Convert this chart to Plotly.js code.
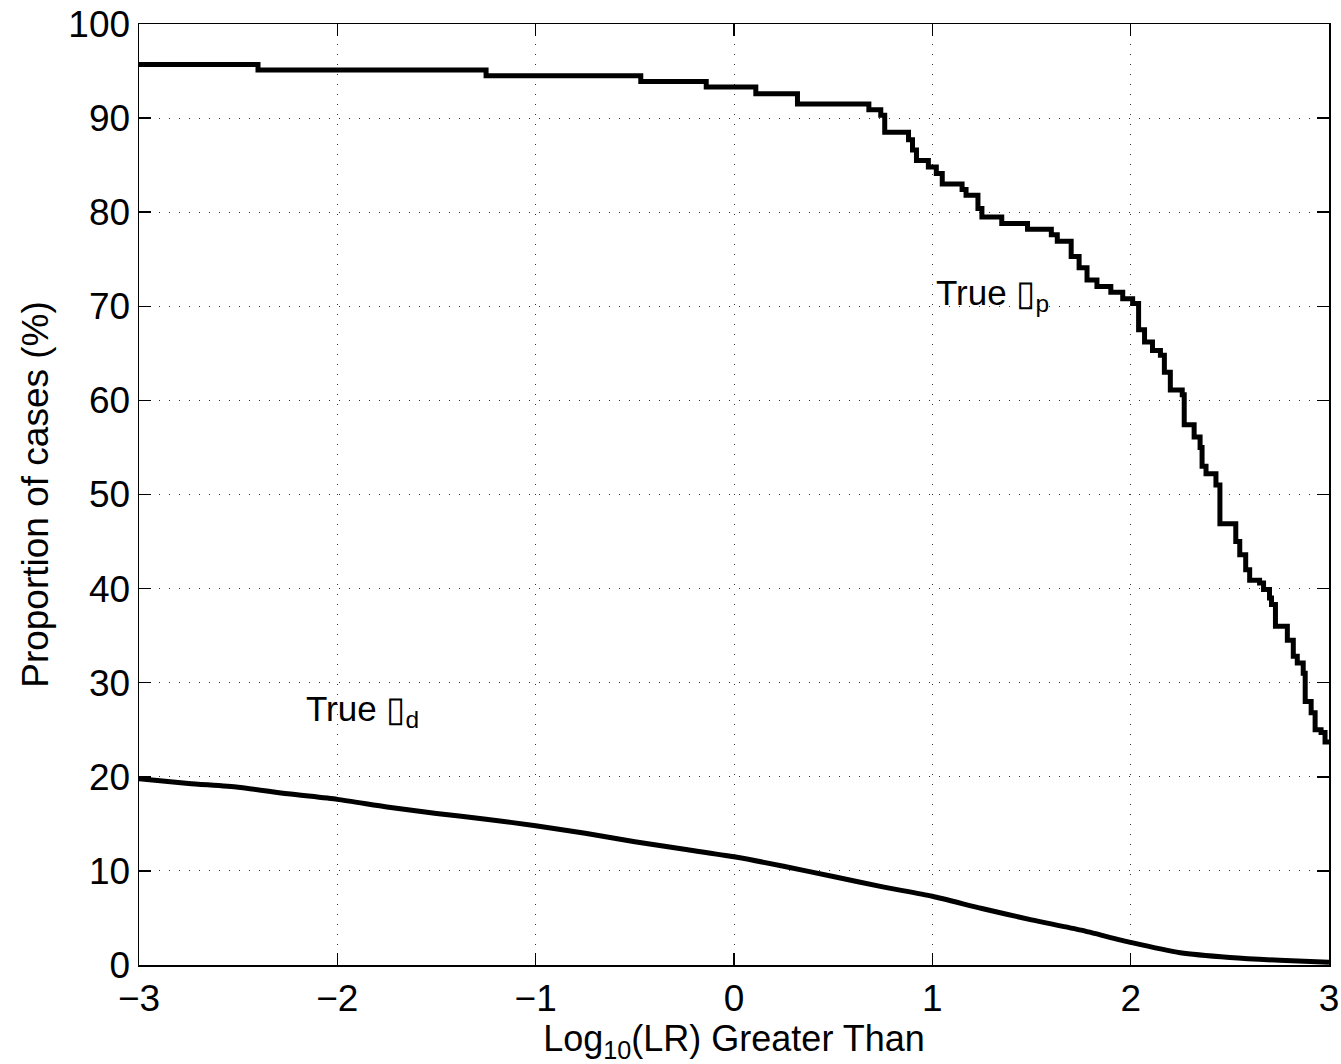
<!DOCTYPE html>
<html>
<head>
<meta charset="utf-8">
<script src="https://cdn.plot.ly/plotly-3.0.1.min.js"></script>
<style>html,body{margin:0;padding:0;background:#fff;}#chart{width:1341px;height:1064px;}</style>
</head>
<body>
<div id="chart"></div>
<script>
// True Hp curve (step function)
const hpX = [-3, -2.40, -1.25, -0.47, -0.14, 0.11, 0.32, 0.68, 0.74, 0.76, 0.88, 0.90, 0.92, 0.98, 1.02, 1.05, 1.15, 1.17, 1.23, 1.25, 1.35, 1.48, 1.60, 1.63, 1.70, 1.74, 1.78, 1.83, 1.90, 1.96, 2.01, 2.04, 2.07, 2.11, 2.15, 2.17, 2.20, 2.26, 2.27, 2.32, 2.35, 2.36, 2.38, 2.43, 2.45, 2.53, 2.55, 2.58, 2.60, 2.65, 2.67, 2.70, 2.71, 2.73, 2.79, 2.82, 2.84, 2.87, 2.88, 2.91, 2.93, 2.96, 2.98, 3.0];
const hpY = [95.7, 95.1, 94.5, 93.9, 93.3, 92.6, 91.5, 90.9, 90.3, 88.5, 87.7, 86.6, 85.5, 84.8, 84.1, 83.0, 82.4, 81.8, 80.4, 79.5, 78.8, 78.2, 77.6, 76.9, 75.3, 74.1, 72.8, 72.1, 71.5, 70.8, 70.3, 67.5, 66.2, 65.3, 64.8, 63.0, 61.1, 60.6, 57.4, 56.1, 55.0, 53.0, 52.2, 51.0, 46.9, 45.0, 43.6, 42.0, 40.9, 40.6, 39.9, 39.0, 38.3, 36.0, 34.5, 32.8, 32.1, 31.0, 28.0, 26.8, 25.0, 24.7, 23.7, 23.7];
// True Hd curve
const hdX = [-3, -2.75, -2.5, -2.25, -2, -1.75, -1.5, -1.25, -1, -0.75, -0.5, -0.25, 0, 0.25, 0.5, 0.75, 1, 1.25, 1.5, 1.75, 2, 2.25, 2.5, 2.75, 3];
const hdY = [19.8, 19.3, 18.9, 18.2, 17.6, 16.8, 16.1, 15.5, 14.8, 14.0, 13.1, 12.3, 11.5, 10.5, 9.4, 8.3, 7.3, 6.0, 4.8, 3.7, 2.4, 1.3, 0.8, 0.5, 0.3];
const xTicks = [-3, -2, -1, 0, 1, 2, 3];
const yTicks = [0, 10, 20, 30, 40, 50, 60, 70, 80, 90, 100];
const labelHp = 'True \u25AF<sub>p</sub>';
const labelHd = 'True \u25AF<sub>d</sub>';

const FONT = 'Liberation Sans, Arial, Helvetica, sans-serif';

const traces = [
  {x: hpX, y: hpY, type: 'scatter', mode: 'lines', line: {shape: 'hv', color: '#000', width: 5}, showlegend: false, hoverinfo: 'skip'},
  {x: hdX, y: hdY, type: 'scatter', mode: 'lines', line: {shape: 'spline', smoothing: 0.6, color: '#000', width: 5}, showlegend: false, hoverinfo: 'skip'}
];

const axisCommon = {
  showline: true, linecolor: '#000', linewidth: 1.5, mirror: 'ticks',
  ticks: 'inside', ticklen: 12, tickwidth: 1.5, tickcolor: '#000',
  showgrid: true, gridcolor: '#333', gridwidth: 1, griddash: '1px,9px',
  zeroline: false,
  tickfont: {family: FONT, size: 37, color: '#000'}
};

const layout = {
  width: 1341, height: 1064,
  margin: {l: 139, r: 12, t: 24, b: 99},
  paper_bgcolor: '#fff', plot_bgcolor: '#fff',
  font: {family: FONT, color: '#000'},
  xaxis: Object.assign({}, axisCommon, {
    range: [-3, 3], tickvals: xTicks, ticktext: xTicks.map(v => v < 0 ? '\u2212' + Math.abs(v) : String(v)),
    title: {text: 'Log<sub>10</sub>(LR) Greater Than', font: {family: FONT, size: 36, color: '#000'}, standoff: 2}
  }),
  yaxis: Object.assign({}, axisCommon, {
    range: [0, 100], tickvals: yTicks,
    title: {text: 'Proportion of cases (%)', font: {family: FONT, size: 37, color: '#000'}, standoff: 8}
  }),
  annotations: [
    {x: 1.01, y: 71.2, xref: 'x', yref: 'y', text: labelHp, showarrow: false, xanchor: 'left', yanchor: 'middle', font: {family: FONT, size: 35, color: '#000'}},
    {x: -2.17, y: 27.0, xref: 'x', yref: 'y', text: labelHd, showarrow: false, xanchor: 'left', yanchor: 'middle', font: {family: FONT, size: 35, color: '#000'}}
  ]
};

Plotly.newPlot('chart', traces, layout, {displayModeBar: false, staticPlot: true});
</script>
</body>
</html>
